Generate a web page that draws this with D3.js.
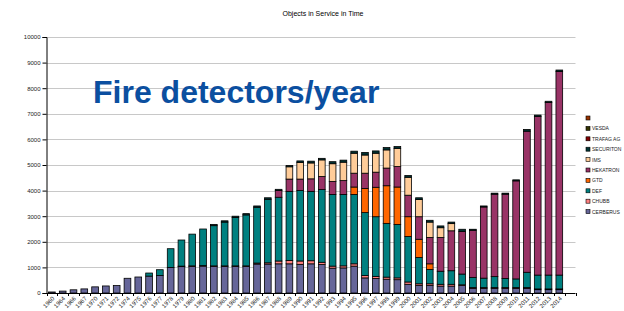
<!DOCTYPE html>
<html>
<head>
<meta charset="utf-8">
<script src="https://cdn.jsdelivr.net/npm/d3@7"></script>
<style>
    body { margin: 0; background: #fff; }
    text { font-family: "Liberation Sans", Arial, sans-serif; }
</style>
</head>
<body>
<script>
//categories (years shown on the x axis)
let years = ["1960", "1964", "1966", "1967", "1970", "1971", "1972", "1974", "1975", "1976", "1977",
    "1978", "1979", "1980", "1981", "1982", "1983", "1984", "1985", "1986", "1987", "1988", "1989",
    "1990", "1991", "1992", "1993", "1994", "1995", "1996", "1997", "1998", "1999", "2000", "2001",
    "2002", "2003", "2004", "2005", "2006", "2007", "2008", "2009", "2010", "2011", "2012", "2013", "2014"];

//series values, bottom of the stack first
let cerberus = [40, 75, 125, 160, 240, 275, 290, 575, 625, 660, 680,
    1000, 1030, 1040, 1050, 1040, 1040, 1040, 1040, 1130, 1130, 1140, 1140,
    1120, 1140, 1110, 970, 980, 1050, 590, 570, 540, 520, 340, 300,
    300, 270, 270, 290, 180, 180, 180, 180, 180, 180, 130, 130, 130];
let chubb = [0, 0, 0, 0, 0, 0, 0, 0, 0, 0, 0,
    0, 20, 20, 20, 20, 20, 20, 20, 40, 50, 110, 130,
    130, 120, 90, 80, 80, 90, 90, 80, 80, 70, 90, 60,
    60, 70, 70, 30, 30, 30, 30, 30, 30, 30, 30, 30, 30];
let def = [0, 0, 0, 0, 0, 0, 0, 0, 0, 120, 230,
    730, 1020, 1240, 1430, 1570, 1710, 1890, 1990, 2180, 2480, 2490, 2700,
    2750, 2710, 2840, 2800, 2790, 2710, 2460, 2330, 2100, 2090, 1780, 1030,
    560, 510, 530, 420, 400, 370, 430, 360, 340, 600, 540, 540, 540];
let gtd = [0, 0, 0, 0, 0, 0, 0, 0, 0, 0, 0,
    0, 0, 0, 0, 0, 0, 0, 0, 0, 0, 0, 0,
    0, 0, 0, 0, 0, 290, 940, 1150, 1470, 1460, 770, 710,
    220, 0, 0, 0, 0, 0, 0, 0, 0, 0, 0, 0, 0];
let hekatron = [0, 0, 0, 0, 0, 0, 0, 0, 0, 0, 0,
    0, 0, 0, 0, 0, 0, 0, 0, 0, 0, 260, 480,
    450, 490, 510, 510, 540, 540, 600, 590, 690, 800, 840, 880,
    1030, 1320, 1560, 1660, 1840, 2780, 3220, 3290, 3830, 5510, 6200, 6740, 7950];
let ims = [0, 0, 0, 0, 0, 0, 0, 0, 0, 0, 0,
    0, 0, 0, 0, 0, 0, 0, 0, 0, 0, 0, 480,
    650, 620, 650, 690, 720, 780, 710, 740, 710, 710, 700, 670,
    600, 380, 280, 0, 0, 0, 0, 0, 0, 0, 0, 0, 0];
let securiton = [0, 0, 0, 0, 0, 0, 0, 0, 0, 0, 0,
    0, 0, 0, 0, 50, 50, 50, 50, 50, 60, 50, 50,
    60, 70, 60, 80, 80, 80, 100, 90, 90, 70, 70, 70,
    70, 70, 60, 90, 40, 40, 40, 40, 40, 70, 50, 50, 60];
let trafag = years.map(function () { return 0; });
let vesda = years.map(function () { return 0; });
let unnamed = years.map(function () { return 0; });

//series names and colours, in stacking order
let seriesNames = ["CERBERUS", "CHUBB", "DEF", "GTD", "HEKATRON", "IMS", "SECURITON", "TRAFAG AG", "VESDA", ""];
let seriesColors = ["#666699", "#ff8080", "#008080", "#ff6600", "#993366", "#ffcc99", "#003333", "#800000", "#333300", "#993300"];
let seriesValues = [cerberus, chubb, def, gtd, hekatron, ims, securiton, trafag, vesda, unnamed];

//y axis tick values
let yTicks = [0, 1000, 2000, 3000, 4000, 5000, 6000, 7000, 8000, 9000, 10000];

window.onload = setChart();

function setChart() {
    let width = 624,
        height = 311;

    let left = 46.5,
        right = 575.5,
        top = 37,
        bottom = 293;

    let svg = d3.select("body")
        .append("svg")
        .attr("width", width)
        .attr("height", height);

    //table for d3.stack
    let table = years.map(function (y, i) {
        let row = { year: y };
        seriesNames.forEach(function (n, j) { row["s" + j] = seriesValues[j][i]; });
        return row;
    });
    let keys = seriesNames.map(function (n, j) { return "s" + j; });
    let stacked = d3.stack().keys(keys)(table);

    //the category axis has one empty slot after 2014
    let step = (right - left) / (years.length + 1);
    let x = d3.scaleBand()
        .domain(years)
        .range([left, left + step * years.length])
        .paddingInner(0.38)
        .paddingOuter(0.19);

    let y = d3.scaleLinear()
        .domain([0, 10000])
        .range([bottom, top]);

    //gridlines
    svg.append("g")
        .selectAll("line")
        .data(yTicks.slice(1))
        .enter()
        .append("line")
        .attr("x1", left)
        .attr("x2", right)
        .attr("y1", function (d) { return Math.round(y(d)) + 0.5; })
        .attr("y2", function (d) { return Math.round(y(d)) + 0.5; })
        .attr("stroke", "#c8c8c8")
        .attr("stroke-width", 1);

    //bars
    svg.append("g")
        .selectAll("g")
        .data(stacked)
        .enter()
        .append("g")
        .attr("fill", function (d, i) { return seriesColors[i]; })
        .selectAll("rect")
        .data(function (d) { return d.filter(function (p) { return p[1] - p[0] > 0; }); })
        .enter()
        .append("rect")
        .attr("x", function (d) { return x(d.data.year); })
        .attr("width", x.bandwidth())
        .attr("y", function (d) { return y(d[1]); })
        .attr("height", function (d) { return y(d[0]) - y(d[1]); })
        .attr("stroke", "#000")
        .attr("stroke-width", 0.8);

    //y axis
    let yAxis = d3.axisLeft(y)
        .tickValues(yTicks)
        .tickSize(4)
        .tickPadding(2)
        .tickFormat(d3.format("d"));
    let gy = svg.append("g")
        .attr("transform", "translate(" + left + ",0)")
        .call(yAxis);
    gy.select(".domain").attr("stroke", "#000");
    gy.selectAll("text").attr("font-size", "6px").attr("fill", "#222");

    //x axis line and ticks at category boundaries
    svg.append("line")
        .attr("x1", left)
        .attr("x2", right)
        .attr("y1", bottom + 0.5)
        .attr("y2", bottom + 0.5)
        .attr("stroke", "#000");

    let bounds = d3.range(years.length + 2).map(function (i) { return left + i * step; });
    svg.append("g")
        .selectAll("line")
        .data(bounds)
        .enter()
        .append("line")
        .attr("x1", function (d) { return Math.round(d) + 0.5; })
        .attr("x2", function (d) { return Math.round(d) + 0.5; })
        .attr("y1", bottom)
        .attr("y2", bottom + 3)
        .attr("stroke", "#000");

    svg.append("g")
        .selectAll("text")
        .data(years)
        .enter()
        .append("text")
        .attr("transform", function (d) {
            return "translate(" + (x(d) + x.bandwidth() / 2 + 3) + "," + (bottom + 6) + ") rotate(-45)";
        })
        .attr("text-anchor", "end")
        .attr("font-size", "6px")
        .attr("fill", "#222")
        .text(function (d) { return d; });

    //titles
    svg.append("text")
        .attr("x", 323)
        .attr("y", 16)
        .attr("text-anchor", "middle")
        .attr("font-size", "7px")
        .attr("fill", "#000")
        .text("Objects in Service in Time");

    svg.append("text")
        .attr("x", 93)
        .attr("y", 103)
        .attr("font-size", "32px")
        .attr("font-weight", "bold")
        .attr("fill", "#0b4fa0")
        .text("Fire detectors/year");

    //legend, last series on top (shifted a little so the names fit)
    let legend = svg.append("g")
        .selectAll("g")
        .data(seriesNames.map(function (n, i) { return i; }).reverse())
        .enter()
        .append("g")
        .attr("transform", function (d, i) { return "translate(586," + (116 + i * 10.4) + ")"; });

    legend.append("rect")
        .attr("width", 4)
        .attr("height", 4)
        .attr("fill", function (d) { return seriesColors[d]; })
        .attr("stroke", "#000")
        .attr("stroke-width", 0.6);

    legend.append("text")
        .attr("x", 6)
        .attr("y", 4)
        .attr("font-size", "5px")
        .attr("fill", "#222")
        .text(function (d) { return seriesNames[d]; });
}
</script>
</body>
</html>
